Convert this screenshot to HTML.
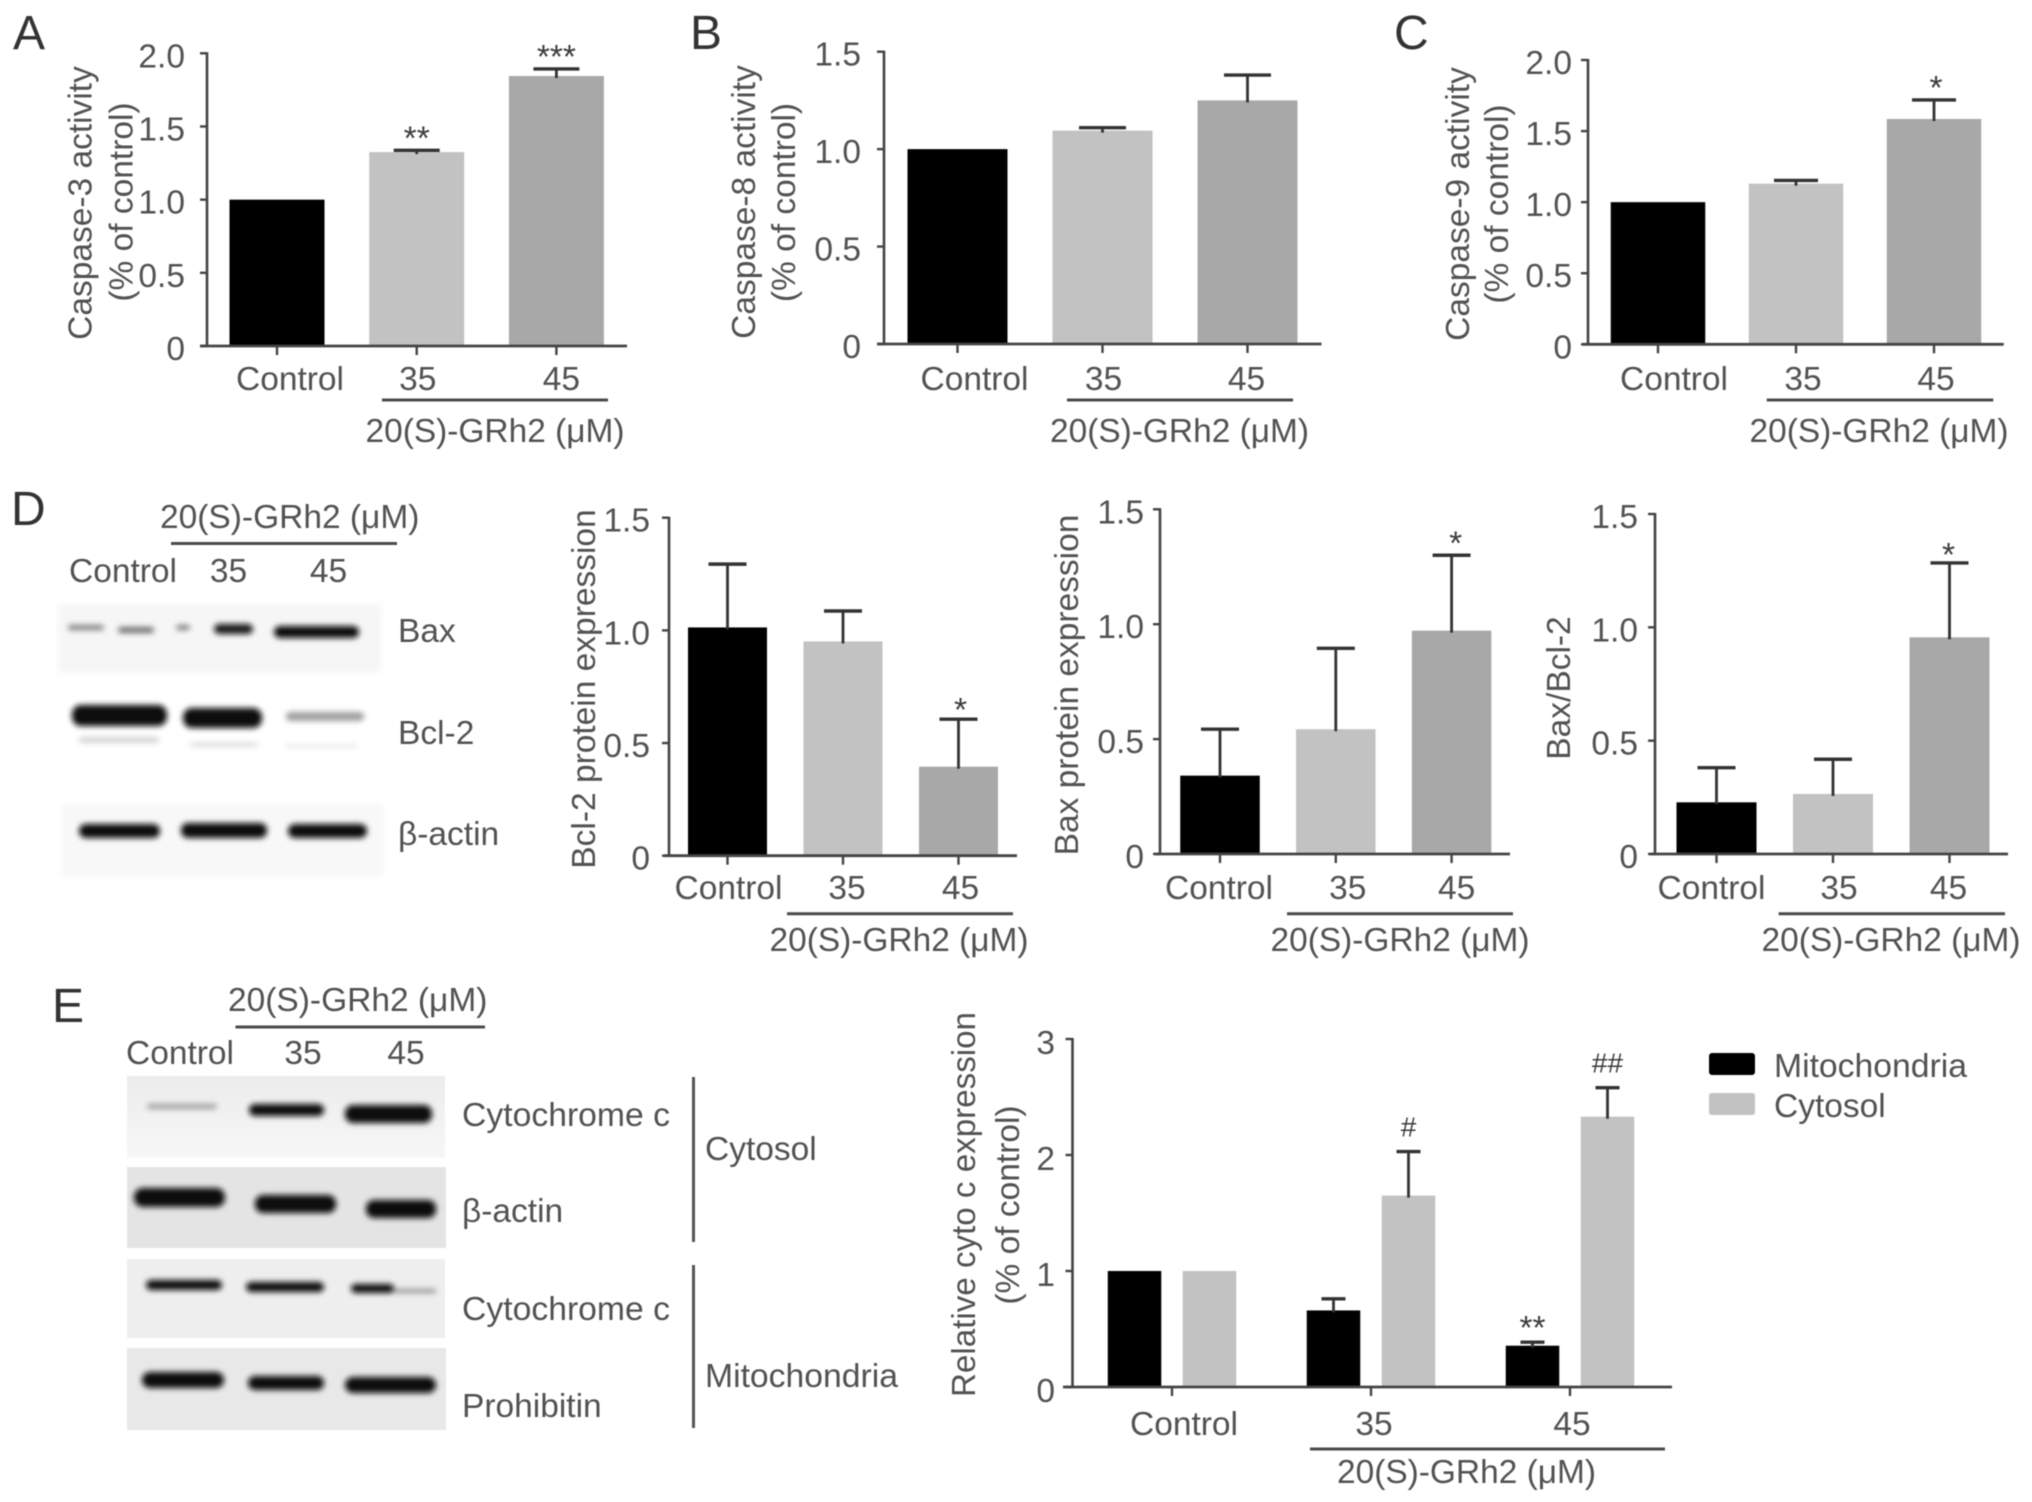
<!DOCTYPE html>
<html lang="en">
<head>
<meta charset="utf-8">
<title>20(S)-GRh2 apoptosis protein figure</title>
<style>
html,body{margin:0;padding:0;background:#fff;}
svg{display:block;filter:blur(0.6px);}
text{font-family:"Liberation Sans",sans-serif;font-size:33.5px;fill:#525252;}
.panel-letter{font-size:48px;fill:#333;}
.band{fill:#0a0a0a;}
</style>
</head>
<body>
<svg id="figure" xmlns="http://www.w3.org/2000/svg" width="2032" height="1502" viewBox="0 0 2032 1502">
<defs>
<filter id="blur3" x="-20%" y="-100%" width="140%" height="300%"><feGaussianBlur stdDeviation="3"/></filter>
<filter id="blurBg" x="-5%" y="-10%" width="110%" height="120%"><feGaussianBlur stdDeviation="3"/></filter>
<linearGradient id="fadeRow" x1="0" y1="0" x2="0" y2="1"><stop offset="0" stop-color="#ececec"/><stop offset="1" stop-color="#f7f7f7"/></linearGradient>
</defs>
<rect width="2032" height="1502" fill="#fff"/>

<text class="panel-letter" x="13" y="49">A</text>
<text class="panel-letter" x="690" y="49">B</text>
<text class="panel-letter" x="1394" y="49">C</text>
<text class="panel-letter" x="11" y="525">D</text>
<text class="panel-letter" x="52" y="1022">E</text>

<g>
  <text x="160" y="528">20(S)-GRh2 (μM)</text>
  <line x1="171" x2="397" y1="543.5" y2="543.5" stroke="#4a4a4a" stroke-width="3"/>
  <text x="69" y="582">Control</text>
  <text x="228.5" y="582" text-anchor="middle">35</text>
  <text x="328.5" y="582" text-anchor="middle">45</text>
  <rect x="58" y="604" width="323" height="69" fill="#f6f6f6" filter="url(#blurBg)"/>
  <rect x="62" y="804" width="321" height="73" fill="#f8f8f8" filter="url(#blurBg)"/>
  <g filter="url(#blur3)">
    <rect class="band" x="68" y="625" width="36" height="5" rx="2.5" opacity=".5"/>
    <rect class="band" x="118" y="627" width="36" height="6" rx="3" opacity=".55"/>
    <rect class="band" x="176" y="625" width="14" height="5" rx="2.5" opacity=".5"/>
    <rect class="band" x="214" y="624" width="39" height="10" rx="5" opacity=".95"/>
    <rect class="band" x="274" y="626" width="85" height="12" rx="6"/>
    <rect class="band" x="72" y="705" width="95" height="21" rx="9"/>
    <rect class="band" x="183" y="708" width="79" height="20" rx="9"/>
    <rect class="band" x="286" y="712" width="78" height="9" rx="4" opacity=".38"/>
    <rect class="band" x="79" y="737" width="80" height="6" rx="3" opacity=".17"/>
    <rect class="band" x="190" y="742" width="68" height="5" rx="2.5" opacity=".12"/>
    <rect class="band" x="286" y="744" width="72" height="4" rx="2" opacity=".08"/>
    <rect class="band" x="79" y="824" width="81" height="14" rx="7"/>
    <rect class="band" x="181" y="823" width="86" height="15" rx="7"/>
    <rect class="band" x="288" y="824" width="79" height="14" rx="7"/>
  </g>
  <text x="398" y="642">Bax</text>
  <text x="398" y="744">Bcl-2</text>
  <text x="398" y="845">β-actin</text>
</g>

<g>
  <text x="228" y="1011">20(S)-GRh2 (μM)</text>
  <line x1="235.5" x2="485" y1="1027" y2="1027" stroke="#4a4a4a" stroke-width="3"/>
  <text x="126" y="1064">Control</text>
  <text x="303" y="1064" text-anchor="middle">35</text>
  <text x="406" y="1064" text-anchor="middle">45</text>
  <rect x="127" y="1076" width="318" height="82" fill="url(#fadeRow)"/>
  <rect x="127" y="1167" width="319" height="81" fill="#e4e4e4"/>
  <rect x="127" y="1259" width="318" height="79" fill="#eeeeee"/>
  <rect x="127" y="1348" width="319" height="82" fill="#e8e8e8"/>
  <g filter="url(#blur3)">
    <rect class="band" x="147" y="1104" width="70" height="5" rx="2.5" opacity=".35"/>
    <rect class="band" x="249" y="1104" width="75" height="12" rx="6"/>
    <rect class="band" x="345" y="1105" width="87" height="18" rx="8"/>
    <rect class="band" x="134" y="1188" width="91" height="19" rx="9"/>
    <rect class="band" x="255" y="1195" width="81" height="18" rx="8"/>
    <rect class="band" x="366" y="1200" width="70" height="18" rx="8"/>
    <rect class="band" x="146" y="1280" width="76" height="10" rx="5"/>
    <rect class="band" x="246" y="1282" width="78" height="10" rx="5"/>
    <rect class="band" x="351" y="1284" width="43" height="9" rx="4.5"/>
    <rect class="band" x="394" y="1289" width="42" height="4" rx="2" opacity=".4"/>
    <rect class="band" x="142" y="1372" width="82" height="16" rx="8"/>
    <rect class="band" x="248" y="1376" width="76" height="14" rx="7"/>
    <rect class="band" x="345" y="1377" width="91" height="16" rx="8"/>
  </g>
  <text x="462" y="1126" textLength="208" lengthAdjust="spacingAndGlyphs">Cytochrome c</text>
  <text x="462" y="1222">β-actin</text>
  <text x="462" y="1320" textLength="208" lengthAdjust="spacingAndGlyphs">Cytochrome c</text>
  <text x="462" y="1417">Prohibitin</text>
  <line x1="693.5" x2="693.5" y1="1077" y2="1242" stroke="#555" stroke-width="3"/>
  <line x1="693.5" x2="693.5" y1="1265" y2="1428" stroke="#555" stroke-width="3"/>
  <text x="705" y="1160">Cytosol</text>
  <text x="705" y="1387" textLength="193" lengthAdjust="spacingAndGlyphs">Mitochondria</text>
</g>

<g>
  <rect x="1709" y="1053" width="46" height="22" rx="3" fill="#000"/>
  <text x="1774" y="1077" textLength="193" lengthAdjust="spacingAndGlyphs">Mitochondria</text>
  <rect x="1709" y="1093" width="46" height="22" rx="3" fill="#c2c2c2"/>
  <text x="1774" y="1117">Cytosol</text>
</g>

<g id="charts"></g>
</svg>

<script>
const doseCategories = ['Control', '35', '45'];
const treatmentLabel = '20(S)-GRh2 (μM)';

const ticks15 = [0, 0.5, 1.0, 1.5];
const ticks15Labels = ['0', '0.5', '1.0', '1.5'];
const ticks20 = [0, 0.5, 1.0, 1.5, 2.0];
const ticks20Labels = ['0', '0.5', '1.0', '1.5', '2.0'];
const ticks3 = [0, 1, 2, 3];
const ticks3Labels = ['0', '1', '2', '3'];

const casp3Values = [1.0, 1.325, 1.845];
const casp3Errors = [0, 0.012, 0.048];
const casp3Marks = ['', '**', '***'];

const casp8Values = [1.0, 1.095, 1.25];
const casp8Errors = [0, 0.015, 0.13];
const casp8Marks = ['', '', ''];

const casp9Values = [1.0, 1.13, 1.585];
const casp9Errors = [0, 0.023, 0.134];
const casp9Marks = ['', '', '*'];

const bcl2Values = [1.013, 0.951, 0.395];
const bcl2Errors = [0.281, 0.135, 0.211];
const bcl2Marks = ['', '', '*'];

const baxValues = [0.341, 0.543, 0.972];
const baxErrors = [0.202, 0.352, 0.328];
const baxMarks = ['', '', '*'];

const ratioValues = [0.228, 0.265, 0.956];
const ratioErrors = [0.153, 0.153, 0.328];
const ratioMarks = ['', '', '*'];

const mitoValues = [1.0, 0.66, 0.356];
const mitoErrors = [0, 0.1, 0.03];
const mitoMarks = ['', '', '**'];

const cytosolValues = [1.0, 1.65, 2.33];
const cytosolErrors = [0, 0.38, 0.25];
const cytosolMarks = ['', '#', '##'];

const SVGNS = 'http://www.w3.org/2000/svg';
const chartsRoot = document.getElementById('charts');

function mk(tag, attrs, parent) {
  const el = document.createElementNS(SVGNS, tag);
  for (const k in attrs) el.setAttribute(k, attrs[k]);
  parent.appendChild(el);
  return el;
}

function drawChart(cfg) {
  const g = mk('g', {}, chartsRoot);
  
  

  const yMax = cfg.yTicks[cfg.yTicks.length - 1];
  const yScale = function (v) { return cfg.yBase - (v / yMax) * (cfg.yBase - cfg.yTop); };
  const xScale = function (i) { return cfg.x0 + i * cfg.step; };

  // bars and error bars
  cfg.series.forEach(function (s, si) {
    s.values.forEach(function (v, i) {
      const cx = xScale(i) + s.offset;
      const top = yScale(v);
      const fill = s.fills[i];
      const bar = mk('rect', { x: cx - cfg.barW / 2, y: top, width: cfg.barW, height: cfg.yBase - top, fill: fill }, g);
      
      

      const e = s.errors[i];
      if (e > 0) {
        const errTop = yScale(v + e);
        const whisker = mk('line', { x1: cx, x2: cx, y1: top + 2, y2: errTop, stroke: '#333', 'stroke-width': 2.8 }, g);
        
        
        const cap = mk('line', { x1: cx - cfg.capW / 2, x2: cx + cfg.capW / 2, y1: errTop, y2: errTop, stroke: '#333', 'stroke-width': 3.4 }, g);
        
        
      }

      const mark = s.marks[i];
      if (mark) {
        const markY = yScale(v + e) - s.markGap;
        const isHash = mark.charAt(0) === '#';
        const t = mk('text', { x: cx + cfg.markDx, y: markY + (isHash ? 10 : 19), 'text-anchor': 'middle' }, g);
        if (isHash) t.style.fontSize = '28px';
        t.style.fill = '#3c3c3c';
        t.textContent = mark;
        
        
      }
    });
  });

  // y axis
  const yAxis = mk('line', { x1: cfg.axisX, x2: cfg.axisX, y1: cfg.yTop - 1, y2: cfg.yBase + 1, stroke: '#444', 'stroke-width': 2.6 }, g);
  
  

  cfg.yTicks.forEach(function (tv, i) {
    const ty = yScale(tv);
    const tick = mk('line', { x1: cfg.axisX - 7, x2: cfg.axisX, y1: ty, y2: ty, stroke: '#444', 'stroke-width': 2.4 }, g);
    
    
    const lab = mk('text', { x: cfg.yLabelRight, y: ty + cfg.yLabelDy, 'text-anchor': 'end' }, g);
    lab.textContent = cfg.yTickLabels[i];
    
    
  });

  // x axis
  const xAxis = mk('line', { x1: cfg.xAxisStart, x2: cfg.xAxisEnd, y1: cfg.yBase, y2: cfg.yBase, stroke: '#444', 'stroke-width': 2.8 }, g);
  
  

  doseCategories.forEach(function (c, i) {
    const tx = xScale(i);
    const tick = mk('line', { x1: tx, x2: tx, y1: cfg.yBase, y2: cfg.yBase + 9, stroke: '#444', 'stroke-width': 2.4 }, g);
    
    
    const lab = mk('text', { x: tx + cfg.catDx[i], y: cfg.catY, 'text-anchor': 'middle' }, g);
    lab.textContent = c;
    
    
  });

  // treatment bracket
  const ln = mk('line', { x1: cfg.groupX1, x2: cfg.groupX2, y1: cfg.groupLineY, y2: cfg.groupLineY, stroke: '#4a4a4a', 'stroke-width': 3 }, g);
  
  
  const gt = mk('text', { x: cfg.groupTextX, y: cfg.groupTextY, 'text-anchor': 'middle', textLength: 259, lengthAdjust: 'spacingAndGlyphs' }, g);
  gt.textContent = treatmentLabel;
  
  

  // y-axis titles
  cfg.titles.forEach(function (tl) {
    const attrs = { x: tl.x, y: tl.cy, 'text-anchor': 'middle', transform: 'rotate(-90 ' + tl.x + ' ' + tl.cy + ')' };
    if (tl.len) { attrs.textLength = tl.len; attrs.lengthAdjust = 'spacingAndGlyphs'; }
    const t = mk('text', attrs, g);
    t.textContent = tl.text;
    
    
  });
}

const triple = ['#000000', '#c2c2c2', '#a8a8a8'];

drawChart({ name: 'caspase-3-chart', yTicks: ticks20, yTickLabels: ticks20Labels,
  axisX: 207, yTop: 53.3, yBase: 346, xAxisStart: 200, xAxisEnd: 627, x0: 277, step: 139.7,
  barW: 95, capW: 46, markDx: 0, yLabelRight: 185, yLabelDy: 14, catDx: [13, 1, 5], catY: 390,
  groupX1: 382, groupX2: 608, groupLineY: 400, groupTextX: 495, groupTextY: 442,
  titles: [{ text: 'Caspase-3 activity', x: 91.5, cy: 203 }, { text: '(% of control)', x: 132.5, cy: 202 }],
  series: [{ key: 'activity', offset: 0, fills: triple, values: casp3Values, errors: casp3Errors, marks: casp3Marks, markGap: 20 }] });

drawChart({ name: 'caspase-8-chart', yTicks: ticks15, yTickLabels: ticks15Labels,
  axisX: 884, yTop: 51.7, yBase: 344, xAxisStart: 877, xAxisEnd: 1321.5, x0: 957.5, step: 145,
  barW: 100, capW: 47, markDx: 0, yLabelRight: 861, yLabelDy: 14, catDx: [17, 1, -1], catY: 390,
  groupX1: 1067, groupX2: 1293, groupLineY: 400, groupTextX: 1179.5, groupTextY: 442,
  titles: [{ text: 'Caspase-8 activity', x: 755, cy: 202 }, { text: '(% of control)', x: 795, cy: 202.5 }],
  series: [{ key: 'activity', offset: 0, fills: triple, values: casp8Values, errors: casp8Errors, marks: casp8Marks, markGap: 18 }] });

drawChart({ name: 'caspase-9-chart', yTicks: ticks20, yTickLabels: ticks20Labels,
  axisX: 1588, yTop: 60, yBase: 344.3, xAxisStart: 1582.5, xAxisEnd: 2003.7, x0: 1658, step: 138,
  barW: 94.5, capW: 44, markDx: 2, yLabelRight: 1572, yLabelDy: 14, catDx: [16, 7, 2], catY: 390,
  groupX1: 1766.7, groupX2: 1993.3, groupLineY: 400, groupTextX: 1879, groupTextY: 442,
  titles: [{ text: 'Caspase-9 activity', x: 1469, cy: 204 }, { text: '(% of control)', x: 1508, cy: 204 }],
  series: [{ key: 'activity', offset: 0, fills: triple, values: casp9Values, errors: casp9Errors, marks: casp9Marks, markGap: 20 }] });

drawChart({ name: 'bcl-2-chart', yTicks: ticks15, yTickLabels: ticks15Labels,
  axisX: 669, yTop: 517.7, yBase: 855.7, xAxisStart: 664, xAxisEnd: 1017, x0: 727.5, step: 115.5,
  barW: 79, capW: 38, markDx: 2, yLabelRight: 650, yLabelDy: 14, catDx: [1, 4, 2], catY: 899,
  groupX1: 787, groupX2: 1013, groupLineY: 913.7, groupTextX: 899, groupTextY: 951,
  titles: [{ text: 'Bcl-2 protein expression', x: 595, cy: 689 }],
  series: [{ key: 'expression', offset: 0, fills: triple, values: bcl2Values, errors: bcl2Errors, marks: bcl2Marks, markGap: 17 }] });

drawChart({ name: 'bax-chart', yTicks: ticks15, yTickLabels: ticks15Labels,
  axisX: 1160, yTop: 509.3, yBase: 854, xAxisStart: 1155, xAxisEnd: 1510, x0: 1220, step: 115.8,
  barW: 79.5, capW: 38, markDx: 4, yLabelRight: 1144, yLabelDy: 14, catDx: [-1, 12, 5], catY: 899,
  groupX1: 1287, groupX2: 1513, groupLineY: 913.7, groupTextX: 1400, groupTextY: 951,
  titles: [{ text: 'Bax protein expression', x: 1078, cy: 685 }],
  series: [{ key: 'expression', offset: 0, fills: triple, values: baxValues, errors: baxErrors, marks: baxMarks, markGap: 20 }] });

drawChart({ name: 'bax-bcl-2-ratio-chart', yTicks: ticks15, yTickLabels: ticks15Labels,
  axisX: 1655, yTop: 514, yBase: 854, xAxisStart: 1650, xAxisEnd: 2008, x0: 1716.5, step: 116.5,
  barW: 80, capW: 38, markDx: -1, yLabelRight: 1638, yLabelDy: 14, catDx: [-5, 6, -1], catY: 899,
  groupX1: 1778.6, groupX2: 2005, groupLineY: 913.7, groupTextX: 1891, groupTextY: 951,
  titles: [{ text: 'Bax/Bcl-2', x: 1570, cy: 688 }],
  series: [{ key: 'ratio', offset: 0, fills: triple, values: ratioValues, errors: ratioErrors, marks: ratioMarks, markGap: 16 }] });

drawChart({ name: 'cytochrome-c-chart', yTicks: ticks3, yTickLabels: ticks3Labels,
  axisX: 1072.5, yTop: 1039, yBase: 1387, xAxisStart: 1063, xAxisEnd: 1672, x0: 1172, step: 199,
  barW: 53.5, capW: 24, markDx: 0, yLabelRight: 1055, yLabelDy: 15, catDx: [12, 3, 2], catY: 1435,
  groupX1: 1310, groupX2: 1665, groupLineY: 1449, groupTextX: 1466.5, groupTextY: 1483,
  titles: [{ text: 'Relative cyto c expression', x: 975, cy: 1204.5, len: 385 }, { text: '(% of control)', x: 1019, cy: 1205 }],
  series: [
    { key: 'mitochondria', offset: -37.5, fills: ['#000000', '#000000', '#000000'], values: mitoValues, errors: mitoErrors, marks: mitoMarks, markGap: 22 },
    { key: 'cytosol', offset: 37.5, fills: ['#c2c2c2', '#c2c2c2', '#c2c2c2'], values: cytosolValues, errors: cytosolErrors, marks: cytosolMarks, markGap: 25 }
  ] });
</script>
</body>
</html>
